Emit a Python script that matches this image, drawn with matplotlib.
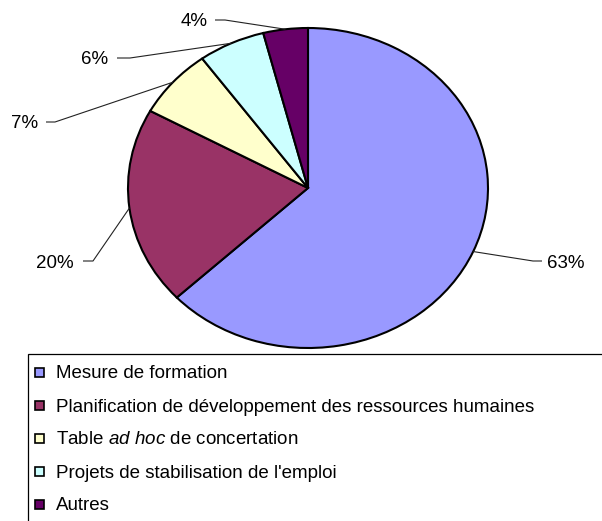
import matplotlib
matplotlib.use('Agg')
import matplotlib.pyplot as plt
import numpy as np
from matplotlib.patches import Rectangle

# ---- data ----
categories = ["Mesure de formation",
              "Planification de développement des ressources humaines",
              r"Table $\it{ad\ hoc}$ de concertation",
              "Projets de stabilisation de l'emploi",
              "Autres"]
values = [63, 20, 7, 6, 4]
pct_labels = ["63%", "20%", "7%", "6%", "4%"]
colors = ["#9999FF", "#993366", "#FFFFCC", "#CCFFFF", "#660066"]

plt.rcParams['font.family'] = ['Liberation Sans', 'DejaVu Sans']
plt.rcParams['mathtext.fontset'] = 'custom'
plt.rcParams['mathtext.rm'] = 'Liberation Sans'
plt.rcParams['mathtext.it'] = 'Liberation Sans:italic'

W, H = 602, 521
FS = 13.5
fig = plt.figure(figsize=(W / 100, H / 100), dpi=100)

# pie axes box (pixels, y from top)
px0, px1, py0, py1 = 128, 488, 28, 348
ax = fig.add_axes([px0 / W, 1 - py1 / H, (px1 - px0) / W, (py1 - py0) / H])
wedges, _ = ax.pie(values, colors=colors, startangle=90, counterclock=False,
                   wedgeprops=dict(edgecolor='black', linewidth=1.5), radius=1)
ax.set_aspect('auto')
ax.set_xlim(-1, 1)
ax.set_ylim(-1, 1)
ax.axis('off')

# overlay axes in pixel coordinates (y down)
ov = fig.add_axes([0, 0, 1, 1], zorder=5)
ov.set_xlim(0, W)
ov.set_ylim(H, 0)
ov.axis('off')
ov.patch.set_alpha(0)

# label layout: (text x, text center y, side, segment start x, segment end x)
layout = [
    (547, 261, 'left', 542, 533),
    (74, 261, 'right', 83, 93),
    (38, 122, 'right', 46, 55),
    (108, 58, 'right', 117, 130),
    (208, 20, 'right', 215, 225),
]

inv = ov.transData.inverted()
for w, lab, (tx, ty, ha, s0, s1) in zip(wedges, pct_labels, layout):
    th = np.deg2rad((w.theta1 + w.theta2) / 2)
    disp = ax.transData.transform((np.cos(th), np.sin(th)))
    mx, my = inv.transform(disp)
    ov.plot([s0, s1, mx], [ty, ty, my], color='#222222', lw=0.8,
            solid_capstyle='butt')
    ov.text(tx, ty + 6.5, lab, ha=ha, va='baseline', fontsize=FS, color='black')

# legend
ov.add_patch(Rectangle((28, 354), 620, 200, fc='white', ec='black', lw=0.9,
                       clip_on=False))
row0, dy = 372, 33
for i, (lab, c) in enumerate(zip(categories, colors)):
    yc = row0 + i * dy
    ov.add_patch(Rectangle((35, yc - 4.5), 9, 9, fc=c, ec='black', lw=1.2))
    ov.text(56, yc + 6.5, lab, ha='left', va='baseline', fontsize=FS, color='black')

fig.savefig('out.png', dpi=100)
